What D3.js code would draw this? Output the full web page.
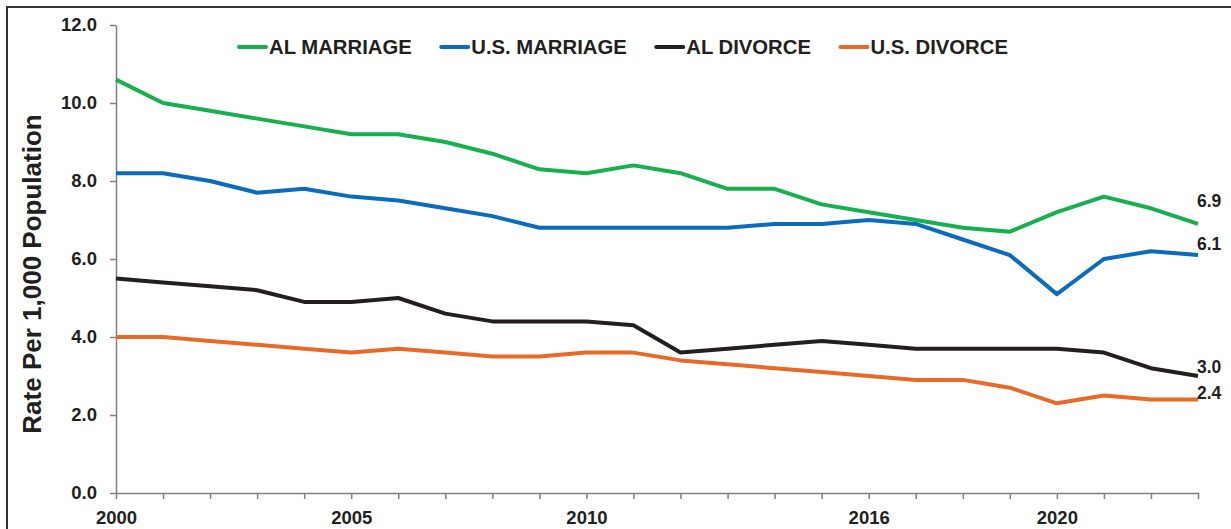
<!DOCTYPE html>
<html>
<head>
<meta charset="utf-8">
<script src="https://cdn.jsdelivr.net/npm/d3@7"></script>
<style>
  body { margin: 0; background: #fff; }
  svg { display: block; font-family: "Liberation Sans", Arial, sans-serif; font-weight: bold; }
</style>
</head>
<body>
<svg id="chart" width="1231" height="529"></svg>
<script>
// data
const years = d3.range(2000, 2024)
const xLabels = [2000, 2005, 2010, 2016, 2020]
const yTicks = [0, 2, 4, 6, 8, 10, 12]

const alMarriage = [10.6, 10.0, 9.8, 9.6, 9.4, 9.2, 9.2, 9.0, 8.7, 8.3, 8.2, 8.4, 8.2, 7.8, 7.8, 7.4, 7.2, 7.0, 6.8, 6.7, 7.2, 7.6, 7.3, 6.9]
const usMarriage = [8.2, 8.2, 8.0, 7.7, 7.8, 7.6, 7.5, 7.3, 7.1, 6.8, 6.8, 6.8, 6.8, 6.8, 6.9, 6.9, 7.0, 6.9, 6.5, 6.1, 5.1, 6.0, 6.2, 6.1]
const alDivorce = [5.5, 5.4, 5.3, 5.2, 4.9, 4.9, 5.0, 4.6, 4.4, 4.4, 4.4, 4.3, 3.6, 3.7, 3.8, 3.9, 3.8, 3.7, 3.7, 3.7, 3.7, 3.6, 3.2, 3.0]
const usDivorce = [4.0, 4.0, 3.9, 3.8, 3.7, 3.6, 3.7, 3.6, 3.5, 3.5, 3.6, 3.6, 3.4, 3.3, 3.2, 3.1, 3.0, 2.9, 2.9, 2.7, 2.3, 2.5, 2.4, 2.4]

const seriesNames = ['AL MARRIAGE', 'U.S. MARRIAGE', 'AL DIVORCE', 'U.S. DIVORCE']
const seriesValues = [alMarriage, usMarriage, alDivorce, usDivorce]
const colors = ['#17b04c', '#0b6cbd', '#231f20', '#e96a27']
// how far above the last point the end label sits
const endLabelDy = [-17, -5, -3, 0]

const svg = d3.select('#chart')
const margin = {left: 116, right: 33, top: 25, bottom: 36}
const width = 1231, height = 529

// outer frame (only top and left edges fall inside the picture)
svg.append('rect')
  .attr('x', 7).attr('y', 7)
  .attr('width', 1400).attr('height', 700)
  .attr('fill', 'none')
  .attr('stroke', '#333')
  .attr('stroke-width', 2)

const x = d3.scaleLinear([2000, 2023], [margin.left, width - margin.right])
const y = d3.scaleLinear([0, 12], [height - margin.bottom, margin.top])

const xAxis = d3.axisBottom(x)
  .tickValues(years)
  .tickSize(6)
  .tickSizeOuter(0)
  .tickPadding(12)
  .tickFormat(d => xLabels.includes(d) ? d : '')

const yAxis = d3.axisLeft(y)
  .tickValues(yTicks)
  .tickSize(6)
  .tickSizeOuter(0)
  .tickPadding(13)
  .tickFormat(d3.format('.1f'))

const gx = svg.append('g')
  .attr('transform', `translate(0, ${y(0)})`)
  .call(xAxis)
const gy = svg.append('g')
  .attr('transform', `translate(${x(2000)}, 0)`)
  .call(yAxis)

for (const g of [gx, gy]) {
  g.select('.domain').attr('stroke', '#808080').attr('stroke-width', 1.5)
  g.selectAll('.tick line').attr('stroke', '#808080').attr('stroke-width', 1.5)
  g.selectAll('.tick text')
    .attr('fill', '#231f20')
    .style('font-family', '"Liberation Sans", Arial, sans-serif')
    .style('font-weight', 'bold')
    .style('font-size', '18.5px')
}

svg.append('text')
  .attr('transform', `translate(41, 274) rotate(-90)`)
  .attr('text-anchor', 'middle')
  .attr('fill', '#231f20')
  .style('font-size', '26px')
  .text('Rate Per 1,000 Population')

const line = d3.line()
  .x((d, i) => x(years[i]))
  .y(d => y(d))

seriesValues.forEach((vals, s) => {
  svg.append('path')
    .attr('d', line(vals))
    .attr('fill', 'none')
    .attr('stroke', colors[s])
    .attr('stroke-width', 4)
    .attr('stroke-linejoin', 'round')

  const last = vals.length - 1
  svg.append('text')
    .attr('x', x(years[last]) - 1)
    .attr('y', y(vals[last]) + endLabelDy[s])
    .attr('fill', '#231f20')
    .style('font-size', '17.5px')
    .text(vals[last].toFixed(1))
})

// legend
let lx = 237
const ly = 47
seriesNames.forEach((name, s) => {
  svg.append('line')
    .attr('x1', lx + 2).attr('x2', lx + 29)
    .attr('y1', ly).attr('y2', ly)
    .attr('stroke', colors[s])
    .attr('stroke-width', 4)
    .attr('stroke-linecap', 'round')
  const t = svg.append('text')
    .attr('x', lx + 32)
    .attr('y', ly + 6.5)
    .attr('fill', '#231f20')
    .style('font-size', '20.3px')
    .text(name)
  lx += 32 + t.node().getComputedTextLength() + 27.5
})
</script>
</body>
</html>
